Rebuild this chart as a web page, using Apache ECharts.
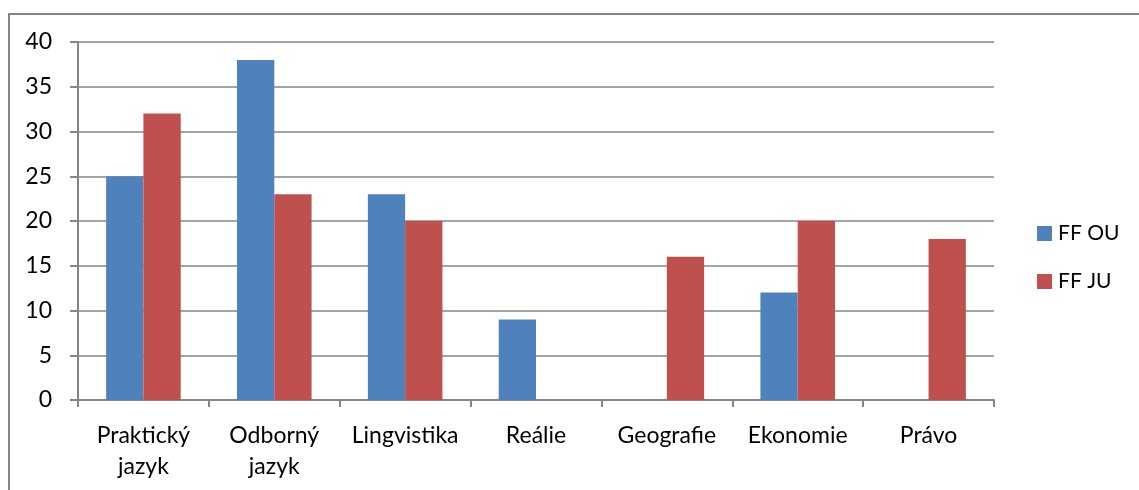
<!DOCTYPE html>
<html>
<head>
<meta charset="utf-8">
<script src="https://cdn.jsdelivr.net/npm/echarts@6/dist/echarts.min.js"></script>
<style>
  html, body { margin: 0; padding: 0; background: #fff; }
  #chart { width: 1139px; height: 490px; }
</style>
</head>
<body>
<div id="chart"></div>
<script>
// Subject areas and counts per faculty
var categories = ['Praktický\njazyk', 'Odborný\njazyk', 'Lingvistika', 'Reálie', 'Geografie', 'Ekonomie', 'Právo'];
var seriesNames = ['FF OU', 'FF JU'];
var ffOU = [25, 38, 23, 9, 0, 12, 0];
var ffJU = [32, 23, 20, 0, 16, 20, 18];
var yTicks = { min: 0, max: 40, interval: 5 };

var font = 'Lato, "Open Sans", "Liberation Sans", sans-serif';
var gridColor = '#868686';

var chart = echarts.init(document.getElementById('chart'), null, { renderer: 'canvas' });
chart.setOption({
  animation: false,
  textStyle: { fontFamily: font },
  graphic: [{
    type: 'rect',
    shape: { x: 9, y: 14, width: 1150, height: 500 },
    style: { fill: 'none', stroke: gridColor, lineWidth: 2 },
    silent: true
  }],
  grid: { left: 78, right: 145, top: 42, bottom: 90, containLabel: false },
  legend: {
    orient: 'vertical',
    left: 1037,
    top: 223,
    padding: 0,
    itemWidth: 15,
    itemHeight: 15,
    itemGap: 27,
    icon: 'rect',
    data: seriesNames,
    textStyle: { fontSize: 21, color: '#000', fontFamily: font, padding: [0, 0, 0, 1] }
  },
  xAxis: {
    type: 'category',
    data: categories,
    boundaryGap: true,
    axisLine: { lineStyle: { color: gridColor, width: 2 } },
    axisTick: { show: true, alignWithLabel: false, length: 7, lineStyle: { color: gridColor, width: 2 } },
    axisLabel: { color: '#000', fontSize: 23, lineHeight: 31, margin: 20, interval: 0, fontFamily: font }
  },
  yAxis: {
    type: 'value',
    min: yTicks.min,
    max: yTicks.max,
    interval: yTicks.interval,
    axisLine: { show: true, lineStyle: { color: gridColor, width: 2 } },
    axisTick: { show: true, length: 8, lineStyle: { color: gridColor, width: 2 } },
    splitLine: { show: true, lineStyle: { color: gridColor, width: 1.5 } },
    axisLabel: { color: '#000', fontSize: 23, margin: 26, fontFamily: font }
  },
  series: [
    { name: seriesNames[0], type: 'bar', data: ffOU, barGap: '0%', barCategoryGap: '43%',
      itemStyle: { color: '#4F81BD' } },
    { name: seriesNames[1], type: 'bar', data: ffJU, barGap: '0%', barCategoryGap: '43%',
      itemStyle: { color: '#C0504D' } }
  ]
});
</script>
</body>
</html>
